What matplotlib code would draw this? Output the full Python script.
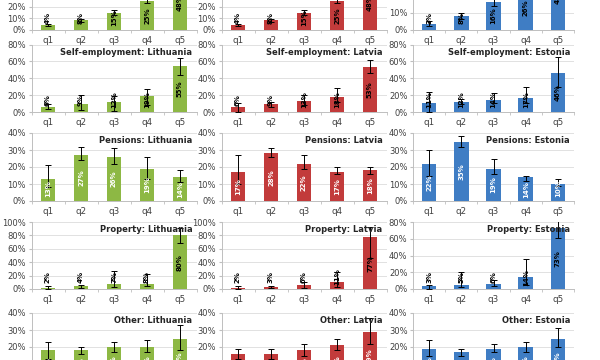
import matplotlib
matplotlib.use("Agg")
import matplotlib.pyplot as plt
import numpy as np

quantiles = ["q1", "q2", "q3", "q4", "q5"]
countries = ["Lithuania", "Latvia", "Estonia"]
colors = ["#8DB844", "#C23B3B", "#3F7DC4"]

# values (%) per country [Lithuania, Latvia, Estonia]
wages_val = [[4, 8, 15, 25, 48], [4, 8, 15, 25, 48], [3, 8, 16, 26, 45]]
wages_lo = [[3, 7, 13, 23, 45], [3, 7, 13, 23, 45], [2, 6, 14, 24, 42]]
wages_hi = [[5, 9, 17, 27, 51], [5, 9, 17, 27, 51], [5, 10, 18, 28, 48]]

selfemp_val = [[6, 9, 12, 19, 55], [6, 9, 13, 18, 53], [11, 12, 14, 17, 46]]
selfemp_lo = [[3, 2, 1, 8, 44], [0, 6, 8, 12, 46], [0, 9, 11, 11, 30]]
selfemp_hi = [[9, 20, 19, 27, 64], [11, 12, 20, 28, 62], [24, 15, 22, 30, 65]]

pens_val = [[13, 27, 26, 19, 14], [17, 28, 22, 17, 18], [22, 35, 19, 14, 10]]
pens_lo = [[8, 24, 22, 13, 11], [10, 26, 19, 16, 16], [15, 32, 16, 12, 9]]
pens_hi = [[21, 32, 31, 26, 18], [27, 31, 27, 20, 20], [30, 38, 25, 15, 13]]

prop_val = [[2, 4, 7, 8, 80], [2, 3, 6, 11, 77], [3, 5, 6, 14, 73]]
prop_lo = [[0, 2, 3, 4, 69], [0, 1, 2, 3, 47], [0, 2, 4, 5, 61]]
prop_hi = [[4, 6, 27, 22, 91], [4, 5, 10, 26, 92], [5, 20, 11, 36, 85]]

other_val = [[18, 18, 20, 20, 25], [16, 16, 18, 21, 29], [19, 17, 19, 20, 25]]
other_lo = [[13, 16, 17, 17, 18], [13, 13, 15, 18, 22], [15, 15, 17, 17, 20]]
other_hi = [[23, 20, 23, 24, 33], [19, 19, 22, 25, 37], [24, 19, 22, 23, 31]]

sources = ["Wages", "Self-employment", "Pensions", "Property", "Other"]
vals = [wages_val, selfemp_val, pens_val, prop_val, other_val]
los = [wages_lo, selfemp_lo, pens_lo, prop_lo, other_lo]
his = [wages_hi, selfemp_hi, pens_hi, prop_hi, other_hi]

# axis limits per row / column
ymax = [[60, 60, 40], [80, 80, 80], [40, 40, 40], [100, 100, 80], [40, 40, 40]]
ystep = [[10, 10, 10], [20, 20, 20], [10, 10, 10], [20, 20, 20], [10, 10, 10]]
label_color = ["black", "black", "white", "black", "white"]

W, H = 600, 360
col_x = [(31.5, 196.5), (221.5, 386.5), (413, 574)]
row_y = [(-38.5, 29.5), (44.5, 112), (133, 201), (222, 289), (313, 381)]

fig = plt.figure(figsize=(6, 3.6), dpi=100)
fig.patch.set_facecolor("white")

x = np.arange(len(quantiles))
for r in range(5):
    for c in range(3):
        x0, x1 = col_x[c]
        yt, yb = row_y[r]
        ax = fig.add_axes([x0 / W, 1 - yb / H, (x1 - x0) / W, (yb - yt) / H])
        v = np.array(vals[r][c], dtype=float)
        lo = np.array(los[r][c], dtype=float)
        hi = np.array(his[r][c], dtype=float)
        ax.bar(x, v, width=0.45, color=colors[c], zorder=2)
        ax.errorbar(x, v, yerr=[v - lo, hi - v], fmt="none", ecolor="black",
                    elinewidth=0.7, capsize=2.5, capthick=0.7, zorder=3)
        ax.set_xlim(-0.5, 4.5)
        ax.set_ylim(0, ymax[r][c])
        ticks = np.arange(0, ymax[r][c] + 0.1, ystep[r][c])
        ax.set_yticks(ticks)
        ax.set_yticklabels([f"{t:.0f}%" for t in ticks])
        ax.set_xticks(x)
        ax.set_xticklabels(quantiles)
        ax.set_xticks(np.arange(-0.5, 5, 1), minor=True)
        ax.tick_params(axis="x", which="major", length=0, pad=4.5,
                       labelsize=6.3, colors="#404040")
        ax.tick_params(axis="x", which="minor", length=2.5, color="#bfbfbf")
        ax.tick_params(axis="y", length=2.5, pad=1.5, labelsize=6,
                       colors="#404040", color="#bfbfbf")
        for s in ["top", "right"]:
            ax.spines[s].set_visible(False)
        for s in ["left", "bottom"]:
            ax.spines[s].set_color("#bfbfbf")
            ax.spines[s].set_linewidth(0.7)
        ax.grid(axis="y", color="#dcdcdc", linewidth=0.6, zorder=0)
        ax.set_axisbelow(True)
        ax.set_facecolor("none")
        ax.text(0.975, 0.885, f"{sources[r]}: {countries[c]}", transform=ax.transAxes,
                ha="right", va="center", fontsize=6, fontweight="bold",
                color="#262626", zorder=5)
        px_per_unit = (yb - yt) / ymax[r][c]
        min_center = 12 / px_per_unit
        for xi, vi in zip(x, v):
            yc = max(vi / 2, min_center)
            if vi > ymax[r][c]:
                yc = ymax[r][c] / 2
            ax.text(xi, yc, f"{vi:.0f}%", rotation=90, ha="center", va="center",
                    fontsize=5, fontweight="bold", color=label_color[r],
                    zorder=4, clip_on=True)

fig.savefig("out.png", dpi=100, facecolor="white")
